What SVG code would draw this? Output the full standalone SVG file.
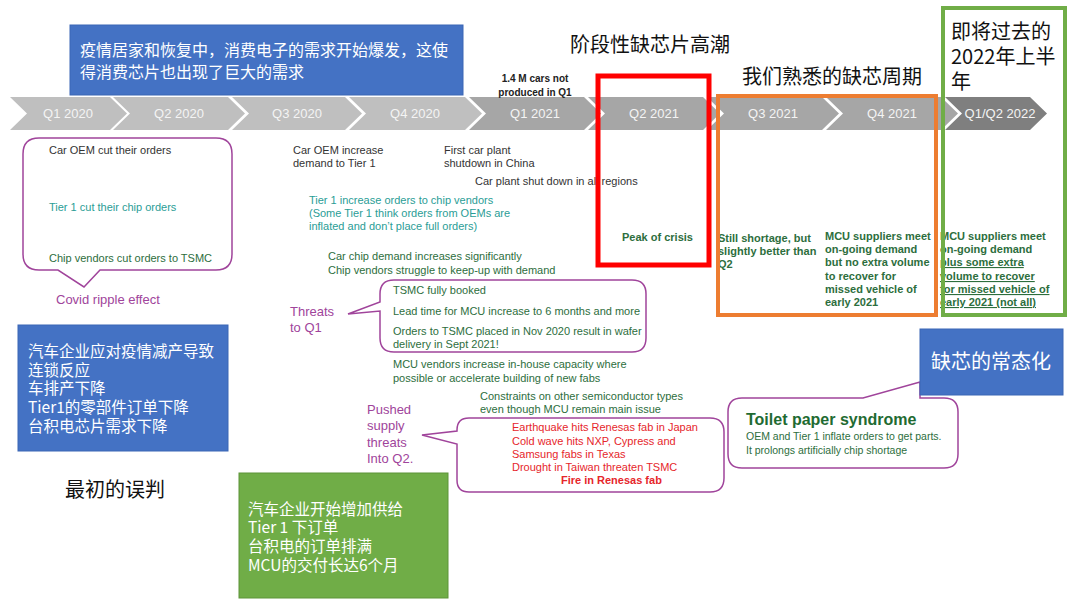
<svg xmlns="http://www.w3.org/2000/svg" width="1080" height="602" viewBox="0 0 1080 602">
<style>
  text { font-family: "Liberation Sans", Arial, sans-serif; }
  .cjk { font-family: "Noto Sans CJK SC", "Liberation Sans", sans-serif; }
  .chev1 { fill: #bfbfbf; }
  .chev2 { fill: #a6a6a6; }
  .chev3 { fill: #7f7f7f; }
  .qlab { font-size: 13px; fill: #f4f4f4; text-anchor: middle; }
  .box-blue { fill: #4472c4; stroke: #3b66b5; stroke-width: 1; }
  .box-green { fill: #70ad47; stroke: #5d9438; stroke-width: 1; }
  .wt { fill: #ffffff; font-size: 15.5px; }
  .wt16 { fill: #ffffff; font-size: 16px; }
  .callout { fill: #ffffff; stroke: #a0449b; stroke-width: 1.5; }
  .s { font-size: 11px; }
  .dk { fill: #333333; }
  .teal { fill: #2a9d96; }
  .grn { fill: #2d6e3d; }
  .grnb { fill: #2d6e3d; font-weight: bold; font-size: 11px; }
  .red { fill: #e6262b; }
  .pur { fill: #a0449b; font-size: 13px; }
  .head { font-size: 20px; fill: #111111; }
</style>

<!-- Timeline chevrons -->
<g id="timeline">
  <polygon class="chev1" points="10,97 110,97 127,113.5 110,130 10,130 27,113.5"/>
  <polygon class="chev1" points="113,97 228,97 245,113.5 228,130 113,130 130,113.5"/>
  <polygon class="chev1" points="232,97 345,97 362,113.5 345,130 232,130 249,113.5"/>
  <polygon class="chev1" points="349,97 465,97 482,113.5 465,130 349,130 366,113.5"/>
  <polygon class="chev2" points="469,97 584,97 601,113.5 584,130 469,130 486,113.5"/>
  <polygon class="chev2" points="588,97 703,97 720,113.5 703,130 588,130 605,113.5"/>
  <polygon class="chev2" points="707,97 822,97 839,113.5 822,130 707,130 724,113.5"/>
  <polygon class="chev2" points="826,97 941,97 958,113.5 941,130 826,130 843,113.5"/>
  <polygon class="chev3" points="945,97 1030,97 1047,113.5 1030,130 945,130 962,113.5"/>
  <text class="qlab" x="68" y="118">Q1 2020</text>
  <text class="qlab" x="179" y="118">Q2 2020</text>
  <text class="qlab" x="297" y="118">Q3 2020</text>
  <text class="qlab" x="415" y="118">Q4 2020</text>
  <text class="qlab" x="535" y="118">Q1 2021</text>
  <text class="qlab" x="654" y="118">Q2 2021</text>
  <text class="qlab" x="773" y="118">Q3 2021</text>
  <text class="qlab" x="892" y="118">Q4 2021</text>
  <text class="qlab" x="1000" y="118">Q1/Q2 2022</text>
</g>

<!-- Top blue box -->
<g id="demand-box">
  <rect class="box-blue" x="70" y="25" width="393" height="70"/>
  <text class="cjk wt16" x="80" y="56">疫情居家和恢复中，消费电子的需求开始爆发，这使</text>
  <text class="cjk wt16" x="80" y="78">得消费芯片也出现了巨大的需求</text>
</g>

<g id="cars-not-produced">
  <text x="535" y="82" font-size="10" font-weight="bold" fill="#222" text-anchor="middle">1.4 M cars not</text>
  <text x="535" y="96" font-size="10" font-weight="bold" fill="#222" text-anchor="middle">produced in Q1</text>
</g>

<g id="headings">
  <text class="cjk head" x="570" y="52">阶段性缺芯片高潮</text>
  <text class="cjk head" x="742" y="84">我们熟悉的缺芯周期</text>
  <text class="cjk head" x="951" y="39">即将过去的</text>
  <text class="cjk head" x="951" y="64">2022年上半</text>
  <text class="cjk head" x="951" y="89">年</text>
</g>

<!-- Covid ripple callout -->
<g id="covid-ripple">
  <path class="callout" d="M39,138 H216 Q232,138 232,154 V254 Q232,270 216,270 H100 L84,287 L58,270 H39 Q23,270 23,254 V154 Q23,138 39,138 Z"/>
  <text class="s dk" x="49" y="154">Car OEM cut their orders</text>
  <text class="s teal" x="49" y="211">Tier 1 cut their chip orders</text>
  <text class="s grn" x="49" y="262">Chip vendors cut orders to TSMC</text>
  <text class="pur" x="56" y="304">Covid ripple effect</text>
</g>

<!-- Left blue box -->
<g id="initial-box">
  <rect class="box-blue" x="18" y="325" width="210" height="126"/>
  <text class="cjk wt" x="28" y="357">汽车企业应对疫情减产导致</text>
  <text class="cjk wt" x="28" y="376">连锁反应</text>
  <text class="cjk wt" x="28" y="394">车排产下降</text>
  <text class="cjk wt" x="28" y="413">Tier1的零部件订单下降</text>
  <text class="cjk wt" x="28" y="432">台积电芯片需求下降</text>
</g>

<g id="misjudgement">
  <text class="cjk head" x="65" y="497">最初的误判</text>
</g>

<!-- Bottom green box -->
<g id="supply-box">
  <rect class="box-green" x="239" y="473" width="209" height="125"/>
  <text class="cjk wt" x="248" y="515">汽车企业开始增加供给</text>
  <text class="cjk wt" x="248" y="533">Tier 1 下订单</text>
  <text class="cjk wt" x="248" y="552">台积电的订单排满</text>
  <text class="cjk wt" x="248" y="571">MCU的交付长达6个月</text>
</g>

<!-- Middle events -->
<g id="events-2020">
  <text class="s dk" x="293" y="154">Car OEM increase</text>
  <text class="s dk" x="293" y="167">demand to Tier 1</text>
  <text class="s dk" x="444" y="154">First car plant</text>
  <text class="s dk" x="444" y="167">shutdown in China</text>
  <text class="s dk" x="475" y="185">Car plant shut down in all regions</text>
  <text class="s teal" x="309" y="204">Tier 1 increase orders to chip vendors</text>
  <text class="s teal" x="309" y="217">(Some Tier 1 think orders from OEMs are</text>
  <text class="s teal" x="309" y="230">inflated and don’t place full orders)</text>
  <text class="s grn" x="328" y="260">Car chip demand increases significantly</text>
  <text class="s grn" x="328" y="274">Chip vendors struggle to keep-up with demand</text>
</g>

<!-- Threats to Q1 callout -->
<g id="threats-q1">
  <path class="callout" d="M394,280 H632 Q646,280 646,294 V338 Q646,352 632,352 H394 Q380,352 380,338 V311 L348,314 L380,302 V294 Q380,280 394,280 Z"/>
  <text class="s grn" x="393" y="294">TSMC fully booked</text>
  <text class="s grn" x="393" y="315">Lead time for MCU increase to 6 months and more</text>
  <text class="s grn" x="393" y="335">Orders to TSMC placed in Nov 2020 result in wafer</text>
  <text class="s grn" x="393" y="348">delivery in Sept 2021!</text>
  <text class="pur" x="290" y="316">Threats</text>
  <text class="pur" x="290" y="332">to Q1</text>
</g>

<g id="events-2021">
  <text class="s grn" x="393" y="368">MCU vendors increase in-house capacity where</text>
  <text class="s grn" x="393" y="382">possible or accelerate building of new fabs</text>
  <text class="s grn" x="480" y="400">Constraints on other semiconductor types</text>
  <text class="s grn" x="480" y="413">even though MCU remain main issue</text>
</g>

<!-- Pushed supply threats callout -->
<g id="threats-q2">
  <path class="callout" d="M469,418 H710 Q724,418 724,432 V478 Q724,492 710,492 H469 Q457,492 457,480 V444 L422,435 L457,431 V430 Q457,418 469,418 Z"/>
  <text class="s red" x="512" y="431">Earthquake hits Renesas fab in Japan</text>
  <text class="s red" x="512" y="445">Cold wave hits NXP, Cypress and</text>
  <text class="s red" x="512" y="458">Samsung fabs in Texas</text>
  <text class="s red" x="512" y="471">Drought in Taiwan threaten TSMC</text>
  <text class="s red" x="561" y="484" font-weight="bold">Fire in Renesas fab</text>
  <text class="pur" x="367" y="414">Pushed</text>
  <text class="pur" x="367" y="430">supply</text>
  <text class="pur" x="367" y="447">threats</text>
  <text class="pur" x="367" y="463">Into Q2.</text>
</g>

<!-- Peak of crisis -->
<g id="peak">
  <text class="grnb" x="622" y="241">Peak of crisis</text>
  <rect x="598" y="76" width="111" height="189" fill="none" stroke="#ff0000" stroke-width="5"/>
</g>

<!-- Familiar cycle -->
<g id="cycle">
  <text class="grnb" x="718" y="242">Still shortage, but</text>
  <text class="grnb" x="718" y="255">slightly better than</text>
  <text class="grnb" x="718" y="268">Q2</text>
  <text class="grnb" x="825" y="240">MCU suppliers meet</text>
  <text class="grnb" x="825" y="253">on-going demand</text>
  <text class="grnb" x="825" y="266">but no extra volume</text>
  <text class="grnb" x="825" y="280">to recover for</text>
  <text class="grnb" x="825" y="293">missed vehicle of</text>
  <text class="grnb" x="825" y="306">early 2021</text>
  <rect x="718" y="96" width="218" height="219" fill="none" stroke="#ed7d31" stroke-width="4"/>
</g>

<!-- 2022 H1 -->
<g id="h1-2022">
  <text class="grnb" x="940" y="240">MCU suppliers meet</text>
  <text class="grnb" x="940" y="253">on-going demand</text>
  <text class="grnb" x="940" y="266" text-decoration="underline">plus some extra</text>
  <text class="grnb" x="940" y="280" text-decoration="underline">volume to recover</text>
  <text class="grnb" x="940" y="293" text-decoration="underline">for missed vehicle of</text>
  <text class="grnb" x="940" y="306" text-decoration="underline">early 2021 (not all)</text>
  <rect x="943" y="8" width="122" height="307" fill="none" stroke="#70ad47" stroke-width="4"/>
</g>

<!-- Toilet paper syndrome callout -->
<g id="toilet-paper">
  <path class="callout" d="M742,398 H863 L920,382 V398 H944 Q958,398 958,412 V454 Q958,468 944,468 H742 Q728,468 728,454 V412 Q728,398 742,398 Z"/>
  <text x="746" y="425" font-size="16" font-weight="bold" fill="#1f6b32">Toilet paper syndrome</text>
  <text x="746" y="440" font-size="10.5" fill="#2d6e3d">OEM and Tier 1 inflate orders to get parts.</text>
  <text x="746" y="454" font-size="10.5" fill="#2d6e3d">It prolongs artificially chip shortage</text>
</g>

<g id="normalisation">
  <rect class="box-blue" x="920" y="329" width="143" height="66"/>
  <text class="cjk" x="991" y="369" font-size="20" fill="#ffffff" text-anchor="middle">缺芯的常态化</text>
</g>

<g id="connectors"></g>
</svg>
